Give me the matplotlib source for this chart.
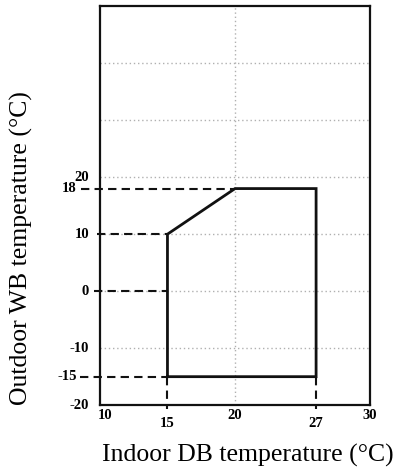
import numpy as np
import matplotlib.pyplot as plt
import matplotlib.transforms as mtransforms

# operating range boundary (indoor DB, outdoor WB)
boundary_x = [15, 15, 20, 27, 27, 15]
boundary_y = [-15, 10, 18, 18, -15, -15]

x_ticks = [10, 15, 20, 27, 30]
x_low = [15, 27]  # labels drawn a bit lower
y_ticks = [-20, -15, -10, 0, 10, 18, 20]
y_far = [-15, 18]  # labels pushed left by the dashed guides
y_grid = [-10, 0, 10, 20, 30, 40]

# dashed guide lines: (y, x_start_outside, x_end)
h_guides = [(18, 8.6, 20), (10, 9.8, 15), (0, 9.6, 15), (-15, 8.5, 15)]
v_guides = [15, 27]

# the original x axis is not evenly spaced: 27 sits where 26 would be
xs_data = [0, 10, 20, 27, 30, 40]
xs_draw = [0, 10, 20, 26, 30, 40]


def fwd(v):
    return np.interp(v, xs_data, xs_draw, left=None, right=None)


def inv(v):
    return np.interp(v, xs_draw, xs_data)


plt.rcParams['font.family'] = ['Liberation Serif', 'DejaVu Serif']

fig = plt.figure(figsize=(3.98, 4.75), dpi=100)
ax = fig.add_axes([0.251, 0.147, 0.679, 0.84])
ax.set_xscale('function', functions=(fwd, inv))
ax.set_xlim(10, 30)
ax.set_ylim(-20, 50)

for y in y_grid:
    ax.axhline(y, color='#b0b0b0', lw=1.0, ls=(0, (1, 2)), zorder=1)
ax.axvline(20, color='#b0b0b0', lw=1.0, ls=(0, (1, 2)), zorder=1)

for y, x0, x1 in h_guides:
    ax.plot([x0, x1], [y, y], color='#111111', lw=1.5, ls=(0, (4, 2.5)), clip_on=False, zorder=2)
for x in v_guides:
    ax.plot([x, x], [-15, -20.6], color='#111111', lw=1.5, ls=(0, (4, 2.5)), clip_on=False, zorder=2)

ax.plot(boundary_x, boundary_y, color='#111111', lw=2, solid_joinstyle='miter', zorder=3)

ax.set_xticks([])
ax.set_yticks([])
ax.minorticks_off()
for s in ax.spines.values():
    s.set_linewidth(1.6)
    s.set_color('#111111')

tr_x = mtransforms.blended_transform_factory(ax.transData, ax.transAxes)
for x in x_ticks:
    off = -0.045 if x in x_low else -0.025
    ax.text(x + (0.35 if x == 10 else 0), off, str(x), transform=tr_x, ha='center', va='center',
            fontsize=10.5, fontweight='bold', clip_on=False)

tr_y = mtransforms.blended_transform_factory(ax.transAxes, ax.transData)
for y in y_ticks:
    xo = -0.085 if y in y_far else -0.04
    ax.text(xo, y, str(y), transform=tr_y, ha='right', va='center',
            fontsize=10.5, fontweight='bold', clip_on=False)

fig.text(0.623, 0.042, 'Indoor DB temperature (°C)', ha='center', va='center', fontsize=18.5)
fig.text(0.055, 0.478, 'Outdoor WB temperature (°C)', ha='center', va='center',
         rotation=90, fontsize=18.5)

fig.savefig('out.png', dpi=100)
